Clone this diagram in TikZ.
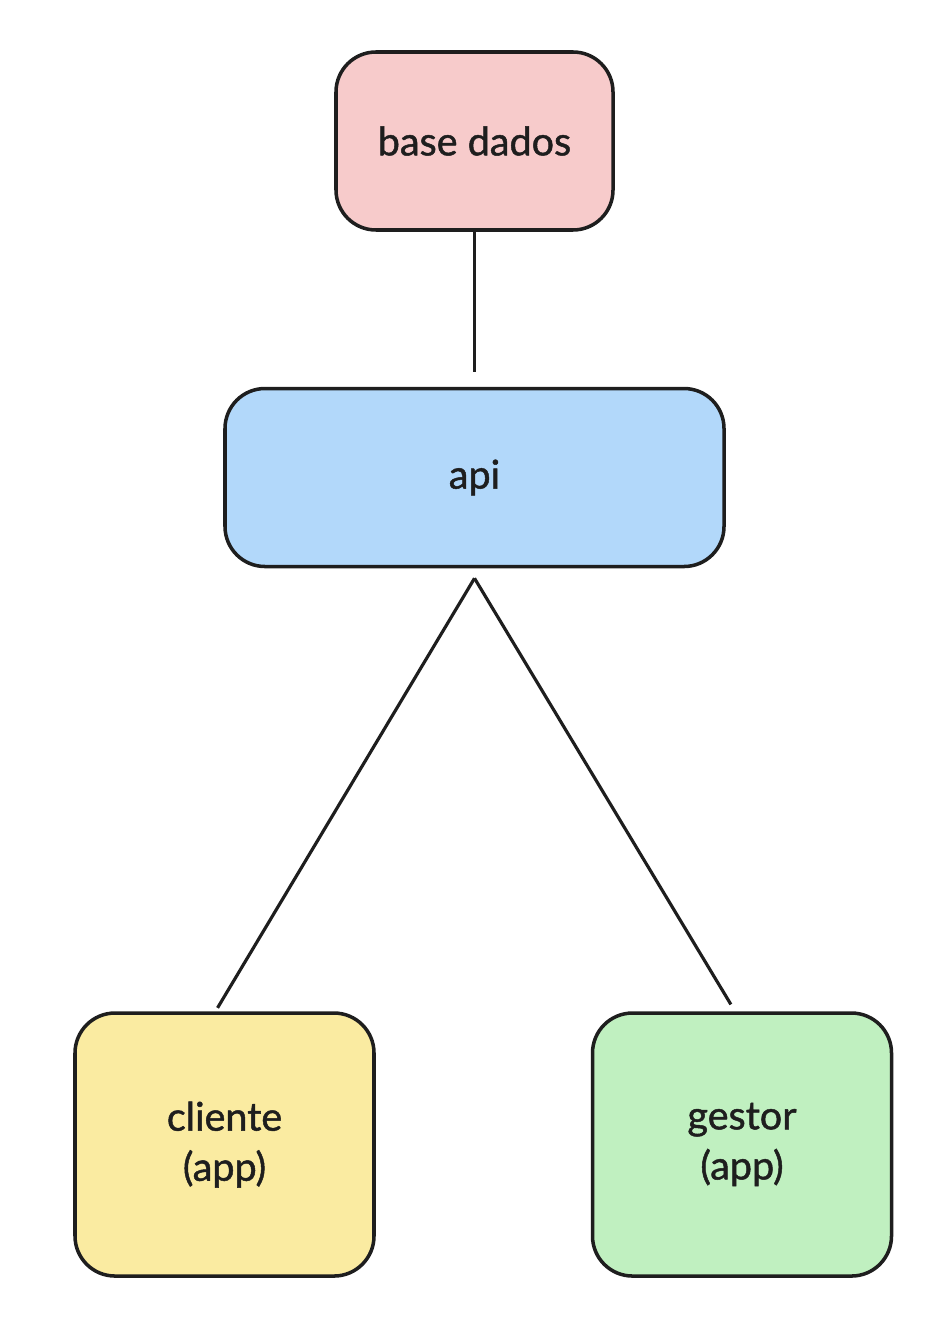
\documentclass[tikz,border=0pt]{standalone}
\usepackage{fontspec}
\setmainfont{Lato}[BoldFont=Lato, BoldFeatures={FakeBold=1.2}]
\usetikzlibrary{positioning}
\definecolor{dbpink}{RGB}{247,203,203}
\definecolor{apiblue}{RGB}{178,216,250}
\definecolor{appyellow}{RGB}{250,235,161}
\definecolor{appgreen}{RGB}{192,240,192}
\definecolor{ink}{RGB}{30,30,30}

\begin{document}
\begin{tikzpicture}[
box/.style={
  draw=ink,
  line width=2pt,
  rounded corners=0.8cm,
  inner sep=0pt,
  align=center,
  font=\fontsize{22.5}{28.5}\selectfont\bfseries,
  text=ink
  },
link/.style={
  draw=ink,
  line width=1.8pt
  }
]
\useasboundingbox (0,0) rectangle (19,-26.68);

\node[box, fill=dbpink, minimum width=5.54cm, minimum height=3.56cm] (db) at (9.49,-2.82) {base dados};
\node[box, fill=apiblue, minimum width=9.98cm, minimum height=3.56cm, below=3.1cm of db] (api) {api};
\node[box, fill=appyellow, minimum width=5.98cm, minimum height=5.26cm, below=8.86cm of api, xshift=-5cm] (cliente) {cliente\\(app)};
\node[box, fill=appgreen, minimum width=5.98cm, minimum height=5.26cm, below=8.86cm of api, xshift=5.35cm] (gestor) {gestor\\(app)};

% shared start point of the two app links
\coordinate (apex) at ([yshift=-0.2cm]api.south);

\draw[link, shorten >=0.3cm] (db) -- (api);
\draw[link, shorten >=0.08cm] (apex) -- ([xshift=-0.18cm]cliente.north);
\draw[link, shorten >=0.16cm] (apex) -- ([xshift=-0.14cm]gestor.north);

\end{tikzpicture}
\end{document}
